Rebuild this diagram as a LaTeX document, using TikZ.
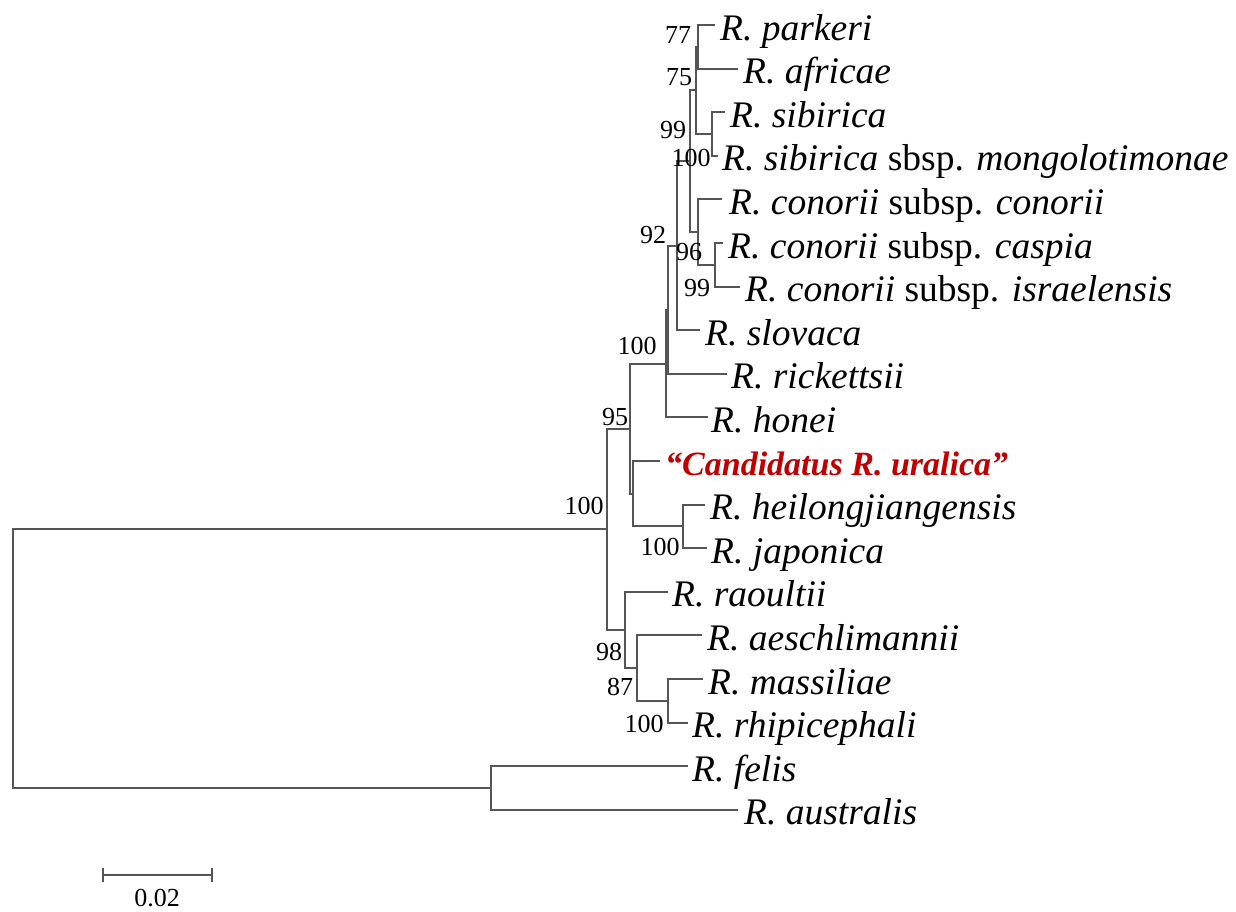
\documentclass[tikz,border=0pt]{standalone}
\usepackage{fontspec}
\setmainfont{Liberation Serif}
\definecolor{linegray}{RGB}{85,85,85}
\definecolor{hilite}{RGB}{192,0,0}
\tikzset{
  branch/.style={draw=linegray, line width=1.9pt},
  taxon/.style={anchor=base west, inner sep=0pt, font=\fontsize{37.5}{40}\selectfont\itshape},
  boot/.style={inner sep=0pt, font=\fontsize{26}{28}\selectfont},
}
\begin{document}
\begin{tikzpicture}[x=1pt, y=-1pt]
\useasboundingbox (0,0) rectangle (1236,911);

% leaf tips
\coordinate (tParkeri) at (715,25);
\coordinate (tAfricae) at (738,68.6);
\coordinate (tSibirica) at (725,112.2);
\coordinate (tMongo) at (718,155.8);
\coordinate (tConorii) at (722,199.4);
\coordinate (tCaspia) at (723,243);
\coordinate (tIsrael) at (740,286.6);
\coordinate (tSlovaca) at (700,330.2);
\coordinate (tRick) at (727,373.8);
\coordinate (tHonei) at (708,417.4);
\coordinate (tUral) at (660,461);
\coordinate (tHeil) at (705,504.6);
\coordinate (tJap) at (707,548.2);
\coordinate (tRaoult) at (668,591.8);
\coordinate (tAesch) at (702,635.4);
\coordinate (tMass) at (703,679);
\coordinate (tRhip) at (688,722.6);
\coordinate (tFelis) at (688,766.2);
\coordinate (tAustr) at (738,809.8);

% internal nodes
\coordinate (nA) at (698,46.8);
\coordinate (nSib) at (712,134);
\coordinate (nB) at (696,90.4);
\coordinate (nCC) at (715,264.8);
\coordinate (nC) at (698,232.1);
\coordinate (nD) at (690,161.2);
\coordinate (nE) at (677,245.7);
\coordinate (nF) at (668,309.8);
\coordinate (nG) at (666,363.6);
\coordinate (nHJ) at (683,526.4);
\coordinate (nH) at (633,493.7);
\coordinate (nI) at (630,428.7);
\coordinate (nMR) at (668,700.8);
\coordinate (nJ) at (637,668.1);
\coordinate (nK) at (625,630);
\coordinate (nL) at (607,529.3);
\coordinate (nFA) at (491,788);
\coordinate (nRoot) at (13,658.6);

% branches
\draw[branch] (tParkeri) -| (nA) |- (tAfricae);
\draw[branch] (tSibirica) -| (nSib) |- (tMongo);
\draw[branch] (nA) -| (nB) |- (nSib);
\draw[branch] (tCaspia) -| (nCC) |- (tIsrael);
\draw[branch] (tConorii) -| (nC) |- (nCC);
\draw[branch] (nB) -| (nD) |- (nC);
\draw[branch] (nD) -| (nE) |- (tSlovaca);
\draw[branch] (nE) -| (nF) |- (tRick);
\draw[branch] (nF) -| (nG) |- (tHonei);
\draw[branch] (tHeil) -| (nHJ) |- (tJap);
\draw[branch] (tUral) -| (nH) |- (nHJ);
\draw[branch] (nG) -| (nI) |- (nH);
\draw[branch] (tMass) -| (nMR) |- (tRhip);
\draw[branch] (tAesch) -| (nJ) |- (nMR);
\draw[branch] (tRaoult) -| (nK) |- (nJ);
\draw[branch] (nI) -| (nL) |- (nK);
\draw[branch] (tFelis) -| (nFA) |- (tAustr);
\draw[branch] (nL) -| (nRoot) |- (nFA);

% taxon names
\node[taxon] (lParkeri) at (720,40) {R. parkeri};
\node[taxon] (lAfricae) at (743,83.6) {R. africae};
\node[taxon] (lSibirica) at (730,127.2) {R. sibirica};
\node[taxon] (lMongo) at (722,170.8) {R. sibirica \textup{sbsp.} mongolotimonae};
\node[taxon] (lConorii) at (729,214.4) {R. conorii \textup{subsp.} conorii};
\node[taxon] (lCaspia) at (728,258) {R. conorii \textup{subsp.} caspia};
\node[taxon] (lIsrael) at (745,301.6) {R. conorii \textup{subsp.} israelensis};
\node[taxon] (lSlovaca) at (705,345.2) {R. slovaca};
\node[taxon] (lRick) at (731,388.8) {R. rickettsii};
\node[taxon] (lHonei) at (711,432.4) {R. honei};
\node[taxon, font=\fontsize{34}{36}\selectfont\bfseries\itshape, text=hilite] (lUral) at (665,475) {“Candidatus R. uralica”};
\node[taxon] (lHeil) at (710,519.6) {R. heilongjiangensis};
\node[taxon] (lJap) at (711,563.2) {R. japonica};
\node[taxon] (lRaoult) at (672,606.8) {R. raoultii};
\node[taxon] (lAesch) at (707,650.4) {R. aeschlimannii};
\node[taxon] (lMass) at (708,694) {R. massiliae};
\node[taxon] (lRhip) at (692,737.6) {R. rhipicephali};
\node[taxon] (lFelis) at (692,781.2) {R. felis};
\node[taxon] (lAustr) at (744,824.8) {R. australis};

% bootstrap values
\node[boot] (bA) at (678,35) {77};
\node[boot] (bB) at (679,77) {75};
\node[boot] (bD) at (673,130) {99};
\node[boot] (bSib) at (691,158) {100};
\node[boot] (bF) at (653,235) {92};
\node[boot] (bC) at (689,252) {96};
\node[boot] (bCC) at (697,288) {99};
\node[boot] (bG) at (637,346) {100};
\node[boot] (bI) at (615,417) {95};
\node[boot] (bL) at (584,506) {100};
\node[boot] (bHJ) at (660,547) {100};
\node[boot] (bK) at (609,652) {98};
\node[boot] (bJ) at (620,687) {87};
\node[boot] (bMR) at (644,724) {100};

% scale bar
\coordinate (sL) at (103,875);
\coordinate (sR) at (212,875);
\draw[branch] (sL) -- (sR);
\draw[branch] ([yshift=-7pt]sL) -- ([yshift=7pt]sL);
\draw[branch] ([yshift=-7pt]sR) -- ([yshift=7pt]sR);
\node[boot] (sLabel) at (157,898) {0.02};
\end{tikzpicture}
\end{document}
